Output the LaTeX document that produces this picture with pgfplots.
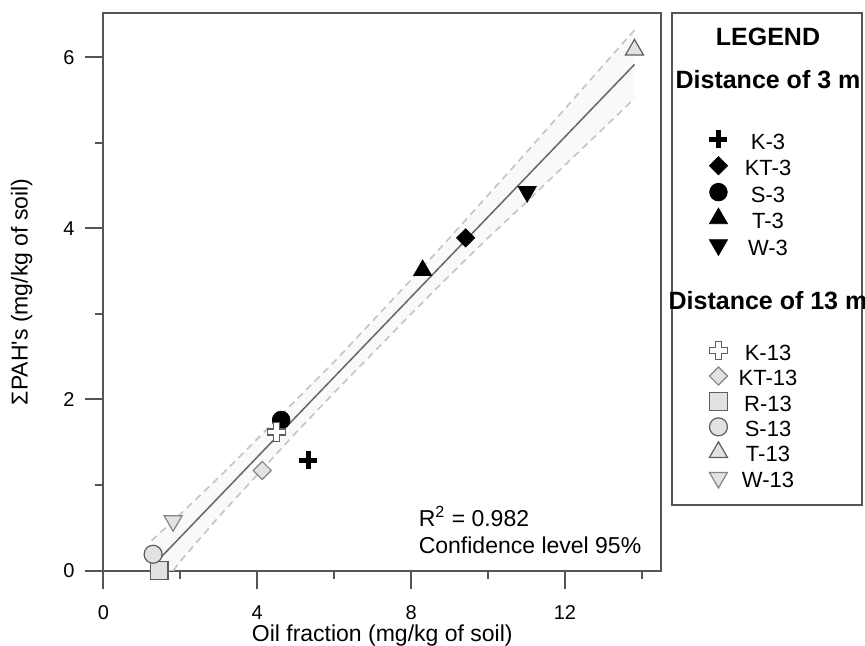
\documentclass[border=0pt]{standalone}
\usepackage{fontspec}
\setmainfont{Liberation Sans}
\newfontfamily\plainfont{Liberation Sans}
\usepackage{pgfplots}
\pgfplotsset{compat=1.18}

\definecolor{frame}{HTML}{555555}
\definecolor{mk}{HTML}{E2E2E2}
\definecolor{mkd}{HTML}{5E5E5E}
\definecolor{mkl}{HTML}{858585}
\definecolor{band}{HTML}{F9F9F9}
\definecolor{dashc}{HTML}{C4C4C4}
\definecolor{reg}{HTML}{666666}

% hollow cross used for K-13
\pgfdeclareplotmark{hcross}{%
  \pgfpathmoveto{\pgfqpoint{-0.33\pgfplotmarksize}{\pgfplotmarksize}}%
  \pgfpathlineto{\pgfqpoint{0.33\pgfplotmarksize}{\pgfplotmarksize}}%
  \pgfpathlineto{\pgfqpoint{0.33\pgfplotmarksize}{0.33\pgfplotmarksize}}%
  \pgfpathlineto{\pgfqpoint{\pgfplotmarksize}{0.33\pgfplotmarksize}}%
  \pgfpathlineto{\pgfqpoint{\pgfplotmarksize}{-0.33\pgfplotmarksize}}%
  \pgfpathlineto{\pgfqpoint{0.33\pgfplotmarksize}{-0.33\pgfplotmarksize}}%
  \pgfpathlineto{\pgfqpoint{0.33\pgfplotmarksize}{-\pgfplotmarksize}}%
  \pgfpathlineto{\pgfqpoint{-0.33\pgfplotmarksize}{-\pgfplotmarksize}}%
  \pgfpathlineto{\pgfqpoint{-0.33\pgfplotmarksize}{-0.33\pgfplotmarksize}}%
  \pgfpathlineto{\pgfqpoint{-\pgfplotmarksize}{-0.33\pgfplotmarksize}}%
  \pgfpathlineto{\pgfqpoint{-\pgfplotmarksize}{0.33\pgfplotmarksize}}%
  \pgfpathlineto{\pgfqpoint{-0.33\pgfplotmarksize}{0.33\pgfplotmarksize}}%
  \pgfpathclose
  \pgfusepathqfillstroke}

% legend rows: text, height above baseline, depth
\newcommand{\hd}[3]{\rule[-#3]{0pt}{\dimexpr#2+#3\relax}\makebox[0pt]{\fontsize{12.5}{15}\selectfont\bfseries #1}}
\newcommand{\en}[3]{\rule[-#3]{0pt}{\dimexpr#2+#3\relax}#1}
\newcommand{\ea}[1]{\en{#1}{11.7pt}{2.68pt}}
\newcommand{\eb}[1]{\en{#1}{11.2pt}{2.4pt}}

\begin{document}
\begin{tikzpicture}
\begin{axis}[
  at={(0,0)}, anchor=south west,
  scale only axis, width=278.75pt, height=278.75pt,
  xmin=0, xmax=14.5, ymin=0, ymax=6.52,
  clip=false,
  axis line style={draw=frame, line width=1pt},
  xtick={0,4,8,12}, minor xtick={2,6,10,14},
  ytick={0,2,4,6}, minor ytick={1,3,5},
  tick pos=left, tick align=outside,
  major tick length=9pt, minor tick length=4.3pt,
  tick style={draw=frame, line width=1pt},
  tick label style={font=\fontsize{10}{12}\selectfont},
  xticklabel style={yshift=-5pt},
  yticklabel style={xshift=-2pt},
  /pgf/number format/assume math mode=true,
  label style={font=\fontsize{11.5}{13}\selectfont},
  xlabel={Oil fraction (mg/kg of soil)},
  ylabel={ΣPAH{\plainfont'}s (mg/kg of soil)},
  xlabel style={at={(axis description cs:0.5,-0.1265)}, anchor=base},
  ylabel style={at={(axis description cs:-0.1467,0.5)}, anchor=center},
  legend cell align=center,
  legend style={at={(1.0717,0.9964)}, anchor=north west, draw=none, fill=none,
    inner sep=0pt, row sep=0pt, column sep=5.5pt,
    cells={anchor=center}, nodes={inner sep=0pt},
    font=\fontsize{11}{13}\selectfont},
]
% confidence band
\addplot[draw=none, fill=band, forget plot] coordinates {
  (1.25,0) (1.25,0.35) (2,0.66) (3,1.09) (4,1.54) (5,1.99) (6,2.44) (7,2.92)
  (8,3.40) (9,3.89) (10,4.39) (11,4.89) (12,5.40) (13,5.91) (13.81,6.32)
  (13.81,5.52) (13,5.17) (12,4.74) (11,4.31) (10,3.89) (9,3.45) (8,3.00)
  (7,2.54) (6,2.08) (5,1.61) (4,1.12) (3,0.63) (2,0.11) (1.82,0)} -- cycle;
\addplot[dashc, line width=0.8pt, dash pattern=on 3.5pt off 2.5pt, forget plot] coordinates {
  (1.25,0.35) (2,0.66) (3,1.09) (4,1.54) (5,1.99) (6,2.44) (7,2.92)
  (8,3.40) (9,3.89) (10,4.39) (11,4.89) (12,5.40) (13,5.91) (13.81,6.32)};
\addplot[dashc, line width=0.8pt, dash pattern=on 3.5pt off 2.5pt, forget plot] coordinates {
  (1.82,0) (2,0.11) (3,0.63) (4,1.12) (5,1.61) (6,2.08) (7,2.54) (8,3.00)
  (9,3.45) (10,3.89) (11,4.31) (12,4.74) (13,5.17) (13.81,5.52)};
% regression line
\addplot[reg, line width=0.75pt, forget plot] coordinates {(1.29,0.059) (13.81,5.918)};

\addlegendimage{empty legend}\addlegendentry{\hd{LEGEND}{14.98pt}{6.03pt}}
\addlegendimage{empty legend}\addlegendentry{\hd{Distance of 3 m}{19.98pt}{6.03pt}}
\addlegendimage{empty legend}\addlegendentry{\rule{0pt}{15.9pt}}

\addplot[only marks, mark=+, mark size=4.5pt, mark options={draw=black, line width=2.5pt}]
  coordinates {(5.32,1.29)};
\addlegendentry{\ea{K-3}}
\addplot[only marks, mark=square*, mark size=3.2pt, mark options={rotate=45, draw=black, fill=black}]
  coordinates {(9.42,3.89)};
\addlegendentry{\ea{KT-3}}
\addplot[only marks, mark=*, mark size=4.4pt, mark options={draw=black, fill=black}]
  coordinates {(4.62,1.76)};
\addlegendentry{\ea{S-3}}
\addplot[only marks, mark=triangle*, mark size=5.2pt, mark options={draw=black, fill=black}]
  coordinates {(8.30,3.51)};
\addlegendentry{\ea{T-3}}
\addplot[only marks, mark=triangle*, mark size=5.2pt, mark options={rotate=180, draw=black, fill=black}]
  coordinates {(11.02,4.43)};
\addlegendentry{\ea{W-3}}

\addlegendimage{empty legend}\addlegendentry{\hd{Distance of 13 m}{25.5pt}{15.03pt}}
\addlegendimage{empty legend}\addlegendentry{\rule{0pt}{11.4pt}}

\addplot[only marks, mark=hcross, mark size=4.6pt, mark options={draw=mkd, fill=white, line width=0.6pt}]
  coordinates {(4.50,1.62)};
\addlegendentry{\eb{K-13}}
\addplot[only marks, mark=square*, mark size=3.2pt, mark options={rotate=45, draw=mkl, fill=mk, line width=0.6pt}]
  coordinates {(4.13,1.17)};
\addlegendentry{\eb{KT-13}}
\addplot[only marks, mark=square*, mark size=4.4pt, mark options={draw=mkd, fill=mk, line width=0.6pt}]
  coordinates {(1.45,0.00)};
\addlegendentry{\eb{R-13}}
\addplot[only marks, mark=*, mark size=4.5pt, mark options={draw=mkd, fill=mk, line width=0.6pt}]
  coordinates {(1.29,0.19)};
\addlegendentry{\eb{S-13}}
\addplot[only marks, mark=triangle*, mark size=5.2pt, mark options={draw=mkd, fill=mk, line width=0.6pt}]
  coordinates {(13.81,6.09)};
\addlegendentry{\eb{T-13}}
\addplot[only marks, mark=triangle*, mark size=5.2pt, mark options={rotate=180, draw=mkl, fill=mk, line width=0.6pt}]
  coordinates {(1.81,0.58)};
\addlegendentry{\eb{W-13}}

\node[anchor=base west, inner sep=0pt, font=\fontsize{11.5}{13}\selectfont] at (axis cs:8.19,0.52) {R\textsuperscript{2} = 0.982};
\node[anchor=base west, inner sep=0pt, font=\fontsize{11.5}{13}\selectfont] at (axis cs:8.19,0.20) {Confidence level 95\%};

\draw[frame, line width=1pt] (rel axis cs:1.0197,0.1175) rectangle (rel axis cs:1.3605,1);
\end{axis}
\pgfresetboundingbox
\useasboundingbox (-51.75pt,-37.25pt) rectangle (380.75pt,285.25pt);
\end{tikzpicture}
\end{document}
